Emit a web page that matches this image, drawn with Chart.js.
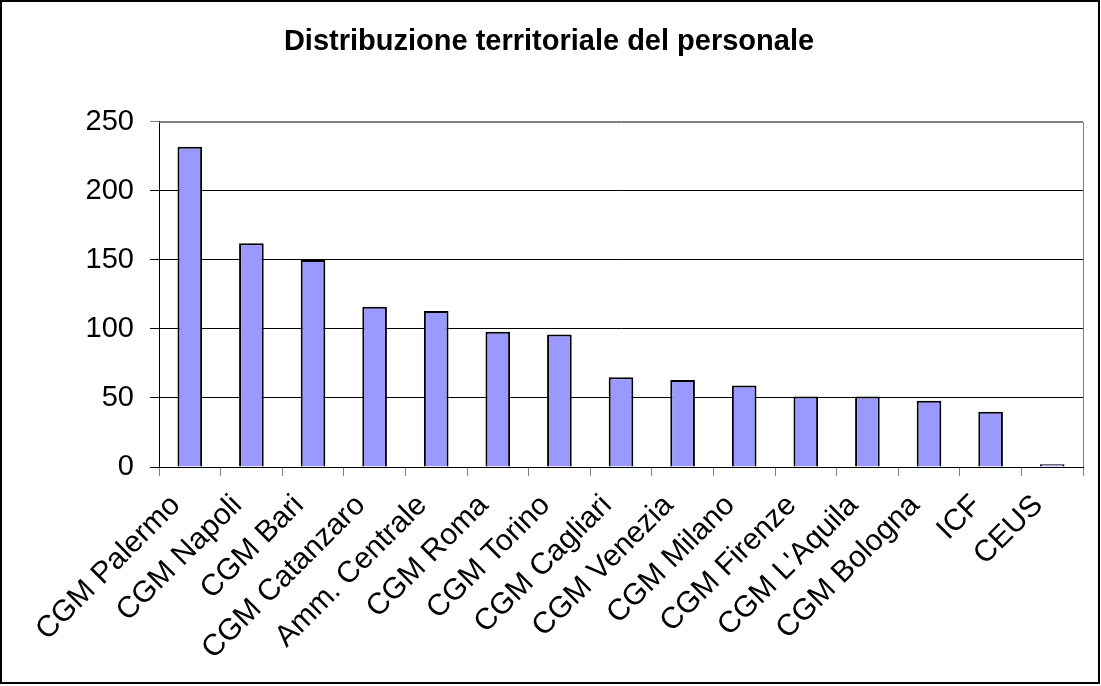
<!DOCTYPE html>
<html>
<head>
<meta charset="utf-8">
<script src="https://cdn.jsdelivr.net/npm/chart.js@4.4.0/dist/chart.umd.min.js"></script>
<style>
html,body{margin:0;padding:0;background:#fff;}
#wrap{width:1101px;height:686px;position:relative;}
</style>
</head>
<body>
<div id="wrap"><canvas id="c" width="1101" height="686"></canvas></div>
<script>
const titleText = 'Distribuzione territoriale del personale';
const categories = ['CGM Palermo','CGM Napoli','CGM Bari','CGM Catanzaro','Amm. Centrale','CGM Roma','CGM Torino','CGM Cagliari','CGM Venezia','CGM Milano','CGM Firenze',"CGM L'Aquila",'CGM Bologna','ICF','CEUS'];
const personale = [232,162,150,116,113,98,96,65,63,59,51,51,48,40,2];
const yTicks = [0,50,100,150,200,250];

const framePlugin = {
  id: 'frame',
  afterDraw(chart) {
    const ctx = chart.ctx, a = chart.chartArea;
    ctx.save();
    ctx.strokeStyle = '#808080';
    ctx.lineWidth = 1;
    ctx.beginPath();
    ctx.moveTo(a.left, Math.round(a.top) + 0.5);
    ctx.lineTo(Math.round(a.right) + 0.5, Math.round(a.top) + 0.5);
    ctx.lineTo(Math.round(a.right) + 0.5, a.bottom);
    ctx.stroke();
    ctx.strokeStyle = '#000';
    ctx.lineWidth = 2;
    ctx.strokeRect(1, 1, 1098, 682);
    ctx.restore();
  }
};

new Chart(document.getElementById('c'), {
  type: 'bar',
  data: {
    labels: categories,
    datasets: [{
      label: 'Personale',
      data: personale,
      backgroundColor: '#9999FF',
      borderColor: '#000000',
      borderWidth: 2,
      categoryPercentage: 1.0,
      barPercentage: 0.4
    }]
  },
  options: {
    responsive: false,
    animation: false,
    layout: { padding: { top: 0, left: 15, right: 18, bottom: 0 } },
    plugins: {
      legend: { display: false },
      tooltip: { enabled: false },
      title: {
        display: true,
        text: titleText,
        color: '#000',
        font: { family: 'Liberation Sans', size: 29, weight: 'bold' },
        padding: { top: 25, bottom: 62 }
      }
    },
    scales: {
      x: {
        offset: true,
        grid: { display: true, drawOnChartArea: false, drawTicks: true, tickLength: 9, color: '#808080', offset: true },
        border: { display: true, color: '#000', width: 1 },
        ticks: {
          color: '#000',
          font: { family: 'Liberation Sans', size: 30 },
          minRotation: 45, maxRotation: 45,
          autoSkip: false,
          padding: 12,
          labelOffset: -14
        },
        afterFit(scale) { scale.height = 219; }
      },
      y: {
        min: 0, max: 250,
        afterBuildTicks(scale) { scale.ticks = yTicks.map(v => ({ value: v })); },
        grid: {
          color: (c) => (c.tick && c.tick.value === 250 ? '#808080' : '#000'),
          lineWidth: 1,
          tickLength: 9,
          drawTicks: true
        },
        border: { display: true, color: '#000', width: 1 },
        ticks: {
          color: '#000',
          font: { family: 'Liberation Sans', size: 29 },
          padding: 16
        },
        afterFit(scale) { scale.width = 144; }
      }
    }
  },
  plugins: [framePlugin]
});
</script>
</body>
</html>
